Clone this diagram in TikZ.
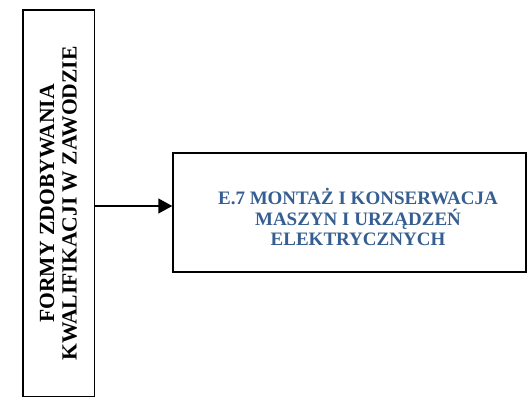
\documentclass[tikz,border=0pt]{standalone}
\usepackage{fontspec}
\setmainfont{Liberation Serif}
\usetikzlibrary{arrows.meta}
\definecolor{titleblue}{RGB}{54,95,145}
\begin{document}
\begin{tikzpicture}[x=1pt,y=1pt,
  boxline/.style={draw=black, line width=1.5pt, inner sep=0pt, fill=white},
  lefttext/.style={rotate=90, align=center, inner sep=0pt,
    font=\fontsize{21.6}{22.5}\selectfont\bfseries},
  righttext/.style={align=center, inner sep=0pt, text=titleblue,
    font=\fontsize{19}{20.7}\selectfont\bfseries},
  link/.style={draw=black, line width=1.5pt, -{Triangle[length=14pt,width=15pt]}}]
\useasboundingbox (0,0) rectangle (528,-397);
\node[boxline, minimum width=71.5pt, minimum height=386.5pt] (lb) at (58.75,-203.25) {};
\node[lefttext] (lt) at (58.5,-203.5) {FORMY ZDOBYWANIA\\KWALIFIKACJI W ZAWODZIE};
\node[boxline, minimum width=353pt, minimum height=119pt] (rb) at (349.5,-212.5) {};
\node[righttext] (rt) at (358,-217) {E.7 MONTAŻ I KONSERWACJA\\MASZYN I URZĄDZEŃ\\ELEKTRYCZNYCH};
\draw[link] (lb.east |- 0,-206) -- (rb.west |- 0,-206);
\end{tikzpicture}
\end{document}
